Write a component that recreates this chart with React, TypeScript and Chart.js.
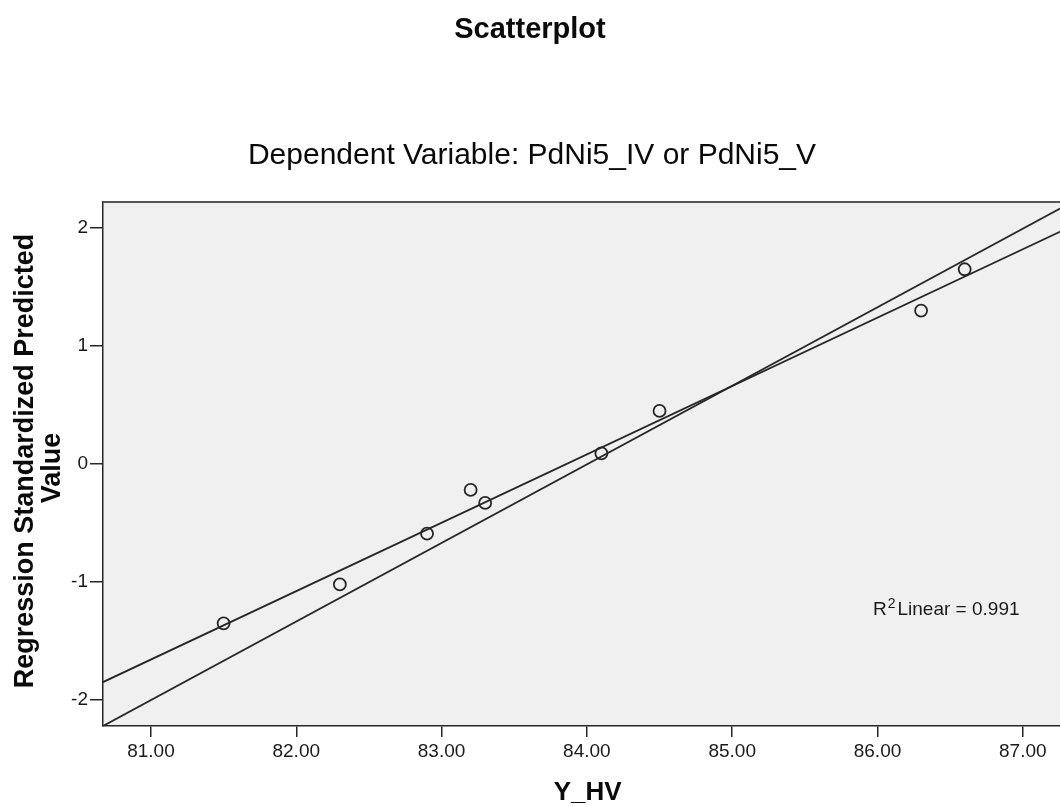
import { useEffect, useRef } from 'react';
import { Chart, registerables } from 'chart.js';

Chart.register(...registerables);

// Observed cases: Y_HV against the regression standardized predicted value
const X_VALUES = [81.5, 82.3, 82.9, 83.2, 83.3, 84.1, 84.5, 86.3, 86.6];
const Y_VALUES = [-1.35, -1.02, -0.59, -0.22, -0.33, 0.09, 0.45, 1.3, 1.65];

// Axis ranges and ticks
const X_MIN = 80.67;
const X_MAX = 87.34;
const Y_MIN = -2.22;
const Y_MAX = 2.22;
const X_TICKS = [81, 82, 83, 84, 85, 86, 87];
const Y_TICKS = [-2, -1, 0, 1, 2];

const TITLE = 'Scatterplot';
const SUBTITLE = 'Dependent Variable: PdNi5_IV or PdNi5_V';
const X_TITLE = 'Y_HV';
const Y_TITLE = ['Regression Standardized Predicted', 'Value'];
const R2_VALUE = '0.991';

const FONT = '"Liberation Sans", Arial, Helvetica, sans-serif';
const INK = '#262626';

function leastSquares(xs: number[], ys: number[]) {
  const n = xs.length;
  const mx = xs.reduce((a, b) => a + b, 0) / n;
  const my = ys.reduce((a, b) => a + b, 0) / n;
  let sxy = 0;
  let sxx = 0;
  for (let i = 0; i < n; i++) {
    sxy += (xs[i] - mx) * (ys[i] - my);
    sxx += (xs[i] - mx) * (xs[i] - mx);
  }
  const slope = sxy / sxx;
  return (x: number) => my + slope * (x - mx);
}

const framePlugin = {
  id: 'spssFrame',
  beforeDraw(chart: any) {
    const { ctx, chartArea: a } = chart;
    ctx.save();
    ctx.fillStyle = '#f0f0f0';
    ctx.fillRect(a.left, a.top, a.right - a.left, a.bottom - a.top);
    ctx.restore();
  },
  afterDraw(chart: any) {
    const { ctx, chartArea: a } = chart;
    ctx.save();
    // top edge of the frame
    ctx.strokeStyle = '#555';
    ctx.lineWidth = 2;
    ctx.beginPath();
    ctx.moveTo(a.left, a.top);
    ctx.lineTo(a.right, a.top);
    ctx.stroke();

    ctx.fillStyle = '#0a0a0a';
    ctx.textAlign = 'center';
    ctx.textBaseline = 'alphabetic';

    ctx.font = `bold 29px ${FONT}`;
    ctx.fillText(TITLE, 530, 38);

    ctx.font = `30px ${FONT}`;
    ctx.fillText(SUBTITLE, 532, 164);

    ctx.font = `bold 26px ${FONT}`;
    ctx.fillText(X_TITLE, (a.left + a.right) / 2, 800);

    // rotated y-axis title, two lines
    const cy = (a.top + a.bottom) / 2;
    ctx.font = `bold 27px ${FONT}`;
    ctx.save();
    ctx.translate(33, cy - 3);
    ctx.rotate(-Math.PI / 2);
    ctx.fillText(Y_TITLE[0], 0, 0);
    ctx.restore();
    ctx.save();
    ctx.translate(60, cy + 4);
    ctx.rotate(-Math.PI / 2);
    ctx.fillText(Y_TITLE[1], 0, 0);
    ctx.restore();

    // R-squared annotation
    ctx.textAlign = 'left';
    ctx.fillStyle = '#1a1a1a';
    let x = 873;
    const base = 615;
    ctx.font = `19px ${FONT}`;
    ctx.fillText('R', x, base);
    x += ctx.measureText('R').width + 1;
    ctx.font = `14px ${FONT}`;
    ctx.fillText('2', x, base - 7);
    x += ctx.measureText('2').width + 2;
    ctx.font = `19px ${FONT}`;
    ctx.fillText(`Linear = ${R2_VALUE}`, x, base);
    ctx.restore();
  },
};

export default function App() {
  const ref = useRef<HTMLCanvasElement>(null);

  useEffect(() => {
    document.body.style.margin = '0';
    const canvas = ref.current;
    if (!canvas) return;
    const fit = leastSquares(X_VALUES, Y_VALUES);
    const lineStyle = {
      showLine: true,
      pointRadius: 0,
      borderColor: INK,
      borderWidth: 1.8,
      backgroundColor: INK,
      clip: 0,
    };
    const chart = new Chart(canvas, {
      type: 'scatter',
      data: {
        datasets: [
          {
            label: 'Linear fit',
            data: [
              { x: X_MIN, y: fit(X_MIN) },
              { x: X_MAX, y: fit(X_MAX) },
            ],
            ...lineStyle,
          },
          {
            label: 'Reference',
            data: [
              { x: X_MIN, y: Y_MIN },
              { x: X_MAX, y: Y_MAX },
            ],
            ...lineStyle,
          },
          {
            label: 'Cases',
            data: X_VALUES.map((x, i) => ({ x, y: Y_VALUES[i] })),
            pointRadius: 6,
            pointHoverRadius: 6,
            pointBorderWidth: 1.8,
            pointBorderColor: INK,
            pointBackgroundColor: 'rgba(0,0,0,0)',
            borderColor: INK,
            backgroundColor: 'rgba(0,0,0,0)',
          },
        ],
      } as any,
      options: {
        animation: false,
        responsive: false,
        devicePixelRatio: 1,
        layout: { padding: { top: 202, right: 7, left: 0, bottom: 0 } },
        plugins: { legend: { display: false }, tooltip: { enabled: false } },
        scales: {
          x: {
            type: 'linear',
            min: X_MIN,
            max: X_MAX,
            afterBuildTicks: (s: any) => {
              s.ticks = X_TICKS.map((v) => ({ value: v }));
            },
            afterFit: (s: any) => {
              s.height = 81;
            },
            ticks: {
              callback: (v: any) => Number(v).toFixed(2),
              font: { family: FONT, size: 19 },
              color: '#1a1a1a',
              padding: 3,
              maxRotation: 0,
              autoSkip: false,
            },
            grid: {
              drawOnChartArea: false,
              drawTicks: true,
              tickLength: 11,
              color: INK,
              lineWidth: 1.5,
            },
            border: { color: INK, width: 1.5 },
          },
          y: {
            type: 'linear',
            min: Y_MIN,
            max: Y_MAX,
            afterBuildTicks: (s: any) => {
              s.ticks = Y_TICKS.map((v) => ({ value: v }));
            },
            afterFit: (s: any) => {
              s.width = 103;
            },
            ticks: {
              callback: (v: any) => String(v),
              font: { family: FONT, size: 19 },
              color: '#1a1a1a',
              padding: 2,
              autoSkip: false,
            },
            grid: {
              drawOnChartArea: false,
              drawTicks: true,
              tickLength: 13,
              color: INK,
              lineWidth: 1.5,
            },
            border: { color: INK, width: 1.5 },
          },
        },
      },
      plugins: [framePlugin],
    });
    return () => chart.destroy();
  }, []);

  return (
    <div style={{ width: 1060, height: 807, overflow: 'hidden', position: 'relative' }}>
      <canvas ref={ref} width={1080} height={807} style={{ display: 'block' }} />
    </div>
  );
}
